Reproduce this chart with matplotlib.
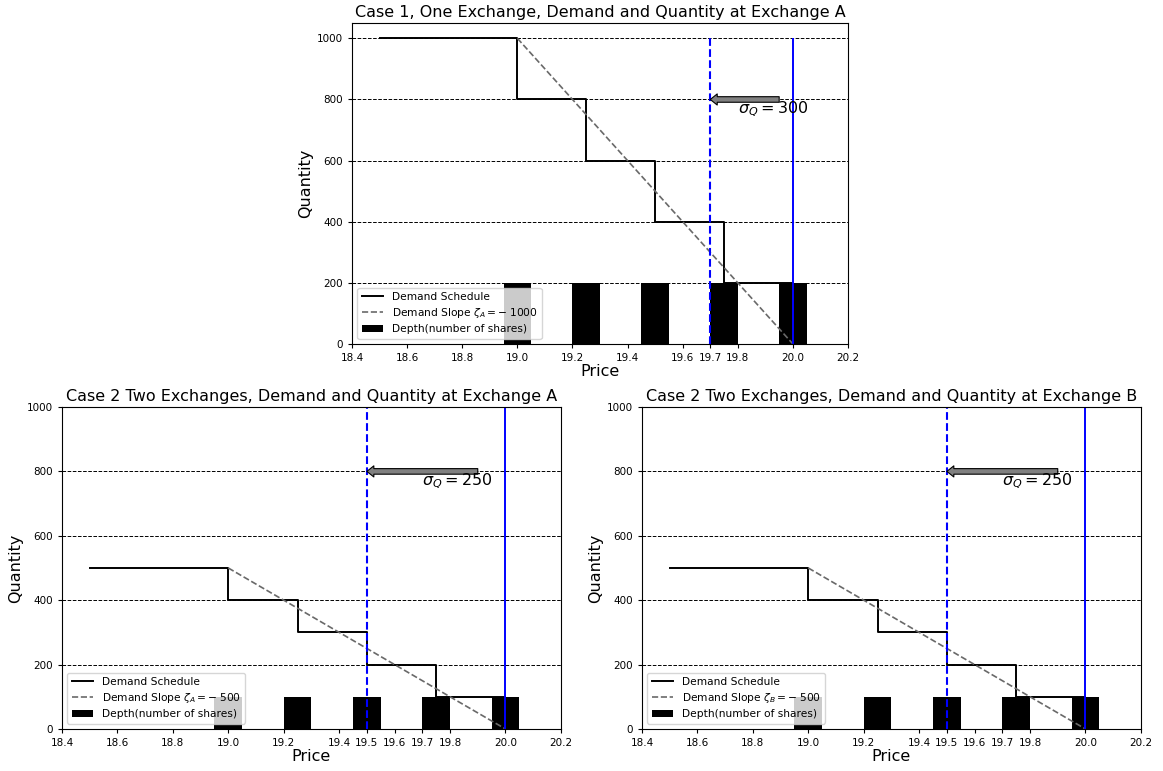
import numpy as np
import matplotlib.pyplot as plt

# price levels of the limit order book
prices = np.array([18.5, 19.0, 19.25, 19.5, 19.75, 20.0])
depth_prices = np.array([19.0, 19.25, 19.5, 19.75, 20.0])

# case 1: one exchange
demand1 = np.array([1000, 800, 600, 400, 200, 200])
depth1 = np.array([200, 200, 200, 200, 200])
slope1_x = [19.0, 20.0]
slope1_y = [1000, 0]

# case 2: two exchanges (A and B are identical)
demand2 = np.array([500, 400, 300, 200, 100, 100])
depth2 = np.array([100, 100, 100, 100, 100])
slope2_x = [19.0, 20.0]
slope2_y = [500, 0]

xticks1 = [18.4, 18.6, 18.8, 19.0, 19.2, 19.4, 19.6, 19.7, 19.8, 20.0, 20.2]
xticks2 = [18.4, 18.6, 18.8, 19.0, 19.2, 19.4, 19.5, 19.6, 19.7, 19.8, 20.0, 20.2]


def draw_case(ax, title, demand, depth, sx, sy, zeta, p_new, arrow_tail, sigma, text_x, xticks, ytop):
    ax.step(prices, demand, where='post', color='black', lw=1.4, label='Demand Schedule')
    ax.plot(sx, sy, '--', color='dimgray', lw=1.2, label=zeta)
    ax.bar(depth_prices, depth, width=0.1, color='black', label='Depth(number of shares)')
    ax.vlines(p_new, 0, 1000, colors='blue', linestyles='--', lw=1.5)
    ax.vlines(20.0, 0, 1000, colors='blue', lw=1.4)
    ax.annotate('', xy=(p_new, 800), xytext=(arrow_tail, 800),
                arrowprops=dict(facecolor='gray', edgecolor='black', lw=0.8,
                                width=4, headwidth=8, headlength=5, shrink=0))
    ax.text(text_x, 768, r'$\sigma_Q = %d$' % sigma, fontsize=11.5, va='center')
    for yv in [200, 400, 600, 800, 1000]:
        ax.axhline(yv, color='black', ls='--', lw=0.7, zorder=0)
    ax.set_xlim(18.4, 20.2)
    ax.set_ylim(0, ytop)
    ax.set_xticks(xticks)
    ax.set_yticks([0, 200, 400, 600, 800, 1000])
    ax.tick_params(labelsize=7.5, length=3)
    ax.set_xlabel('Price', fontsize=11.5, labelpad=1)
    ax.set_ylabel('Quantity', fontsize=11.5, labelpad=3)
    ax.set_title(title, fontsize=11.5, pad=4)
    ax.legend(loc='lower left', fontsize=7.7, labelspacing=0.4)


fig = plt.figure(figsize=(11.63, 7.71), dpi=100)
ax1 = fig.add_axes([0.3027, 0.5538, 0.4265, 0.4163])
ax2 = fig.add_axes([0.0533, 0.0545, 0.429, 0.4176])
ax3 = fig.add_axes([0.552, 0.0545, 0.429, 0.4176])

draw_case(ax1, 'Case 1, One Exchange, Demand and Quantity at Exchange A', demand1, depth1,
          slope1_x, slope1_y, r'Demand Slope $\zeta_A = -\;1000$', 19.7, 19.95, 300, 19.8, xticks1, 1050)
draw_case(ax2, 'Case 2 Two Exchanges, Demand and Quantity at Exchange A', demand2, depth2,
          slope2_x, slope2_y, r'Demand Slope $\zeta_A = -\;500$', 19.5, 19.9, 250, 19.7, xticks2, 1000)
draw_case(ax3, 'Case 2 Two Exchanges, Demand and Quantity at Exchange B', demand2, depth2,
          slope2_x, slope2_y, r'Demand Slope $\zeta_B = -\;500$', 19.5, 19.9, 250, 19.7, xticks2, 1000)

plt.savefig('out.png', dpi=100)
